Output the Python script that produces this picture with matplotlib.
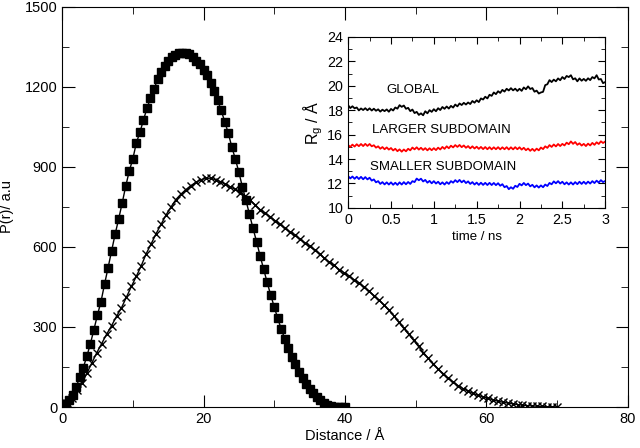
import matplotlib
matplotlib.use('Agg')
import matplotlib.pyplot as plt
import numpy as np
from matplotlib.ticker import MultipleLocator

plt.rcParams['font.family'] = ['Liberation Sans', 'DejaVu Sans']

# P(r), filled squares, r = 0 .. 40 A every 0.5 A
r_sq = np.linspace(0, 40, 81)
p_sq = [0, 10, 26, 46, 75, 113, 148, 190, 237, 290,
        345, 395, 460, 522, 585, 648, 705, 765, 828, 885,
        930, 990, 1030, 1075, 1120, 1158, 1192, 1228, 1256, 1278,
        1299, 1311, 1320, 1326, 1329, 1328, 1322, 1312, 1298, 1285,
        1265, 1243, 1215, 1185, 1150, 1112, 1070, 1027, 975, 930,
        880, 825, 775, 722, 670, 620, 567, 517, 467, 420,
        375, 332, 291, 255, 220, 188, 160, 131, 108, 88,
        68, 52, 37, 25, 15, 8, 4, 1, 0, 0,
        0]

# P(r), crosses, r = 0 .. 70 A every 0.7 A
r_x = np.linspace(0, 70, 101)
p_x = [0, 14, 35, 62, 89, 126, 165, 203, 238, 273,
       305, 340, 372, 412, 452, 490, 530, 575, 612, 650,
       685, 720, 750, 778, 798, 815, 830, 842, 852, 857,
       858, 852, 845, 835, 825, 816, 803, 790, 775, 758,
       740, 727, 714, 699, 685, 670, 657, 644, 630, 616,
       602, 589, 575, 557, 543, 531, 515, 503, 490, 477,
       465, 450, 434, 418, 401, 383, 363, 342, 318, 295,
       273, 250, 227, 204, 182, 162, 142, 125, 108, 94,
       80, 69, 60, 51, 44, 38, 33, 27, 22, 18,
       15, 12, 9, 7, 5, 4, 3, 2, 1, 1,
       0]

# radius of gyration vs time, t = 0 .. 3 ns every 0.025 ns
t_ns = np.linspace(0, 3, 121)
rg_global = [18.40, 18.17, 18.32, 18.15, 18.22, 17.98, 18.14, 18.01, 18.16, 17.99,
             18.15, 17.97, 18.12, 17.95, 18.07, 17.88, 18.04, 17.92, 18.06, 17.87,
             18.10, 17.97, 18.22, 18.12, 18.41, 18.27, 18.38, 18.11, 18.19, 17.92,
             18.05, 17.76, 17.86, 17.61, 17.74, 17.58, 17.91, 17.74, 18.00, 17.86,
             18.08, 17.91, 18.16, 18.01, 18.26, 18.11, 18.30, 18.13, 18.35, 18.21,
             18.46, 18.31, 18.55, 18.42, 18.60, 18.46, 18.63, 18.50, 18.75, 18.61,
             18.81, 18.66, 18.96, 18.87, 19.10, 18.96, 19.26, 19.17, 19.45, 19.31,
             19.55, 19.41, 19.66, 19.52, 19.75, 19.61, 19.80, 19.62, 19.76, 19.57,
             19.75, 19.58, 19.86, 19.71, 19.95, 19.73, 19.81, 19.51, 19.60, 19.36,
             19.45, 19.50, 20.05, 20.12, 20.46, 20.30, 20.50, 20.36, 20.60, 20.45,
             20.71, 20.55, 20.80, 20.71, 20.86, 20.52, 20.61, 20.36, 20.60, 20.41,
             20.56, 20.40, 20.61, 20.46, 20.71, 20.60, 20.86, 20.51, 20.55, 20.21,
             20.30]
rg_larger = [15.14, 14.99, 15.18, 15.02, 15.21, 15.05, 15.23, 15.06, 15.24, 15.07,
             15.23, 15.04, 15.13, 14.93, 15.04, 14.84, 14.98, 14.80, 14.95, 14.77,
             14.90, 14.70, 14.84, 14.64, 14.79, 14.60, 14.78, 14.63, 14.84, 14.71,
             14.94, 14.79, 14.96, 14.77, 14.92, 14.74, 14.89, 14.71, 14.88, 14.72,
             14.89, 14.73, 14.93, 14.78, 14.99, 14.83, 15.04, 14.88, 15.09, 14.95,
             15.14, 14.99, 15.15, 14.97, 15.11, 14.92, 15.06, 14.87, 15.04, 14.86,
             15.01, 14.83, 14.99, 14.81, 14.98, 14.80, 14.97, 14.79, 14.96, 14.80,
             14.97, 14.79, 14.96, 14.80, 14.97, 14.78, 14.96, 14.79, 14.97, 14.80,
             14.96, 14.77, 14.92, 14.72, 14.86, 14.67, 14.83, 14.66, 14.85, 14.71,
             14.94, 14.81, 15.04, 14.91, 15.14, 14.99, 15.19, 15.03, 15.23, 15.06,
             15.24, 15.11, 15.34, 15.21, 15.44, 15.24, 15.39, 15.16, 15.29, 15.10,
             15.24, 15.06, 15.26, 15.11, 15.32, 15.16, 15.37, 15.23, 15.45, 15.31,
             15.43]
rg_smaller = [12.60, 12.41, 12.57, 12.38, 12.55, 12.36, 12.54, 12.34, 12.52, 12.33,
              12.47, 12.23, 12.33, 12.09, 12.19, 11.96, 12.11, 11.92, 12.09, 11.91,
              12.09, 11.89, 12.06, 11.88, 12.09, 11.91, 12.11, 11.93, 12.12, 11.96,
              12.19, 12.11, 12.40, 12.26, 12.39, 12.16, 12.29, 12.06, 12.21, 12.01,
              12.19, 11.99, 12.14, 11.93, 12.09, 11.91, 12.11, 11.96, 12.19, 12.06,
              12.27, 12.11, 12.29, 12.09, 12.24, 12.03, 12.17, 11.96, 12.11, 11.91,
              12.07, 11.88, 12.06, 11.88, 12.05, 11.87, 12.05, 11.87, 12.04, 11.86,
              12.02, 11.81, 11.94, 11.69, 11.79, 11.53, 11.69, 11.56, 11.81, 11.71,
              11.97, 11.84, 12.04, 11.86, 11.99, 11.76, 11.89, 11.68, 11.84, 11.66,
              11.84, 11.69, 11.91, 11.79, 12.04, 11.93, 12.17, 12.01, 12.19, 11.99,
              12.14, 11.93, 12.09, 11.91, 12.09, 11.91, 12.11, 11.94, 12.14, 11.96,
              12.14, 11.96, 12.15, 11.99, 12.19, 12.03, 12.23, 12.07, 12.27, 12.11,
              12.20]

fig = plt.figure(figsize=(6.4, 4.48), dpi=100)

# main P(r) panel
ax = fig.add_axes([0.097, 0.0915, 0.884, 0.893])
ax.plot(r_sq, p_sq, color='k', lw=1, marker='s', ms=6, mfc='k', mec='k')
ax.plot(r_x, p_x, color='k', lw=1, marker='x', ms=5.5, mew=1)
ax.set_xlim(0, 80)
ax.set_ylim(0, 1500)
ax.xaxis.set_major_locator(MultipleLocator(20))
ax.xaxis.set_minor_locator(MultipleLocator(10))
ax.yaxis.set_major_locator(MultipleLocator(300))
ax.yaxis.set_minor_locator(MultipleLocator(150))
ax.tick_params(which='both', direction='in', top=True, right=True, labelsize=10.5)
ax.tick_params(which='major', length=9)
ax.tick_params(which='minor', length=5)
ax.set_xlabel('Distance / Å', fontsize=10.5, labelpad=2)
ax.set_ylabel('P(r)/ a.u', fontsize=10.5)
ax.yaxis.set_label_coords(-0.085, 0.5)

# inset Rg vs time
ins = fig.add_axes([0.544, 0.536, 0.4016, 0.3817])
ins.plot(t_ns, rg_global, color='k', lw=1.3)
ins.plot(t_ns, rg_larger, color='red', lw=1.3)
ins.plot(t_ns, rg_smaller, color='blue', lw=1.3)
ins.set_xlim(0, 3)
ins.set_ylim(10, 24)
ins.xaxis.set_major_locator(MultipleLocator(0.5))
ins.xaxis.set_minor_locator(MultipleLocator(0.25))
ins.yaxis.set_major_locator(MultipleLocator(2))
ins.yaxis.set_minor_locator(MultipleLocator(1))
ins.tick_params(which='both', direction='in', top=True, right=True, labelsize=10.3)
ins.tick_params(which='major', length=5)
ins.tick_params(which='minor', length=3)
ins.set_xticks([0, 0.5, 1, 1.5, 2, 2.5, 3])
ins.set_xticklabels(['0', '0.5', '1', '1.5', '2', '2.5', '3'])
ins.set_xlabel('time / ns', fontsize=9.5, labelpad=3)
ins.set_ylabel('R$_\\mathregular{g}$ / Å', fontsize=11.5, labelpad=2)
ins.text(0.45, 19.66, 'GLOBAL', fontsize=9.5, va='center', ha='left')
ins.text(0.28, 16.38, 'LARGER SUBDOMAIN', fontsize=9.5, va='center', ha='left')
ins.text(0.26, 13.38, 'SMALLER SUBDOMAIN', fontsize=9.5, va='center', ha='left')

fig.savefig('out.png', dpi=100)
